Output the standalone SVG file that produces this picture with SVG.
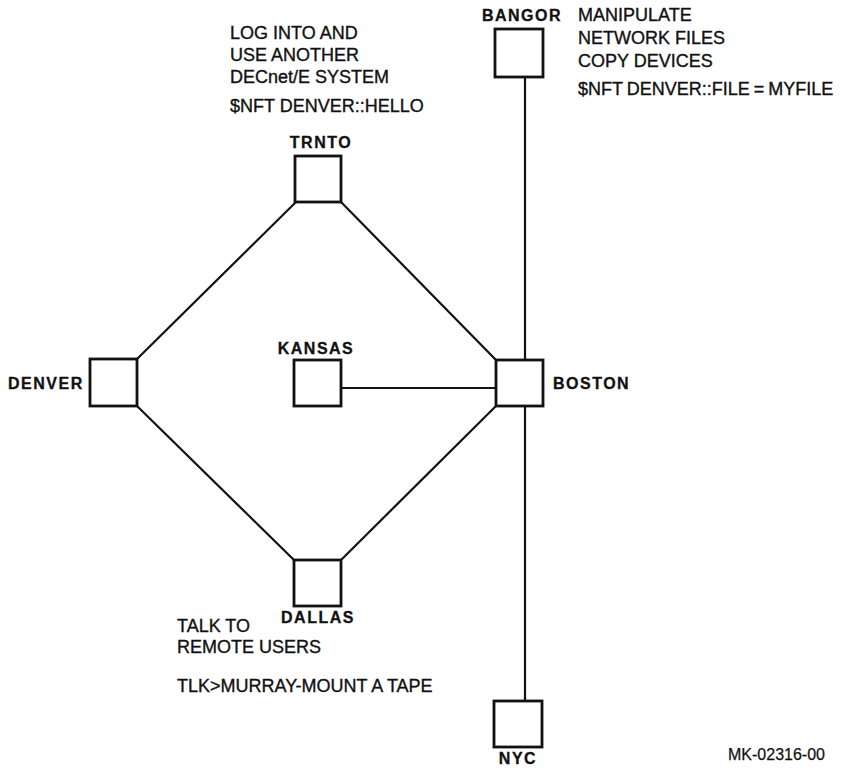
<svg xmlns="http://www.w3.org/2000/svg" width="842" height="768" viewBox="0 0 842 768">
<style>
.node rect{fill:#fff;stroke:#111;stroke-width:2.8}
.lbl{font-family:"Liberation Sans",Arial,sans-serif;font-weight:bold;font-size:16px;letter-spacing:1.5px;fill:#111;stroke:#111;stroke-width:0.3}
.txt{font-family:"Liberation Sans",Arial,sans-serif;font-size:18px;fill:#111;stroke:#111;stroke-width:0.35}
.conn line{stroke:#111;stroke-width:2.2}
</style>
<rect width="842" height="768" fill="#fff"/>
<g id="connectors" class="conn">
<line x1="525" y1="77" x2="525" y2="360"/>
<line x1="525" y1="406" x2="525" y2="701"/>
<line x1="341" y1="388" x2="496" y2="388"/>
<line x1="296" y1="202" x2="137" y2="359"/>
<line x1="341" y1="202" x2="496" y2="360"/>
<line x1="137" y1="406" x2="294" y2="560"/>
<line x1="496" y1="406" x2="341" y2="560"/>
</g>
<g id="bangor" class="node"><rect x="495" y="29" width="48" height="48"/><text class="lbl" x="522" y="21" text-anchor="middle">BANGOR</text></g>
<g id="trnto" class="node"><rect x="295" y="156" width="46" height="46"/><text class="lbl" x="321" y="148" text-anchor="middle">TRNTO</text></g>
<g id="denver" class="node"><rect x="90" y="359" width="47" height="47"/><text class="lbl" x="8" y="389">DENVER</text></g>
<g id="kansas" class="node"><rect x="294" y="360" width="47" height="46"/><text class="lbl" x="316" y="354" text-anchor="middle">KANSAS</text></g>
<g id="boston" class="node"><rect x="496" y="360" width="47" height="46"/><text class="lbl" x="553" y="389">BOSTON</text></g>
<g id="dallas" class="node"><rect x="294" y="560" width="47" height="46"/><text class="lbl" x="318" y="623" text-anchor="middle">DALLAS</text></g>
<g id="nyc" class="node"><rect x="494" y="701" width="48" height="46"/><text class="lbl" x="518" y="764" text-anchor="middle">NYC</text></g>
<g id="notes">
<text class="txt" x="230" y="39">LOG INTO AND</text>
<text class="txt" x="230" y="61">USE ANOTHER</text>
<text class="txt" x="230" y="83">DECnet/E SYSTEM</text>
<text class="txt" x="230" y="112">$NFT DENVER::HELLO</text>
<text class="txt" x="578" y="21">MANIPULATE</text>
<text class="txt" x="578" y="44">NETWORK FILES</text>
<text class="txt" x="578" y="67">COPY DEVICES</text>
<text class="txt" x="578" y="95" word-spacing="-1">$NFT DENVER::FILE = MYFILE</text>
<text class="txt" x="177" y="632">TALK TO</text>
<text class="txt" x="177" y="653">REMOTE USERS</text>
<text class="txt" x="177" y="692">TLK&gt;MURRAY-MOUNT A TAPE</text>
<text class="txt" x="728" y="760" style="font-size:16px;stroke-width:0.25">MK-02316-00</text>
</g>
</svg>
